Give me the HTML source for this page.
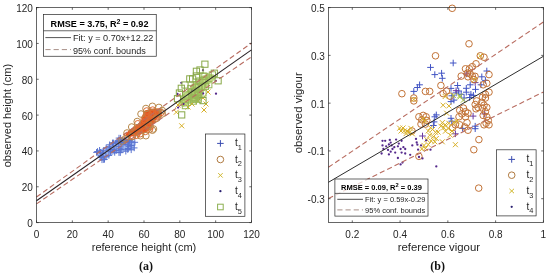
<!DOCTYPE html>
<html><head><meta charset="utf-8"><style>
html,body{margin:0;padding:0;background:#fff;}
svg{display:block;font-family:"Liberation Sans", sans-serif;will-change:transform;}
.tk{font-size:10px;fill:#262626;}
.lb{font-size:11px;fill:#262626;}
.lg{font-size:10px;fill:#262626;}
.cap{font-family:"Liberation Serif",serif;font-weight:bold;font-size:12px;fill:#111;}
</style></head><body>
<svg width="550" height="276" viewBox="0 0 550 276">
<rect width="550" height="276" fill="#fff"/>
<path d="M96.4,152.3 L103.5,147.4 L111.9,144.0 L114.2,140.5 L120.8,137.6 L131.0,138.8 L135.7,142.0 L134.5,149.8 L125.6,151.2 L114.9,153.5 L106.3,158.4 L102.2,161.0 L97.2,156.6Z" fill="#a0b8f0"/>
<path d="M123.8,142.6H130.4M127.1,139.3V145.9" stroke="#5a74d0" stroke-width="1.0" opacity="1.0"/>
<path d="M124.7,148.5H131.3M128.0,145.2V151.8" stroke="#5a74d0" stroke-width="1.0" opacity="1.0"/>
<path d="M102.9,147.9H109.5M106.2,144.6V151.2" stroke="#5a74d0" stroke-width="1.0" opacity="1.0"/>
<path d="M112.9,150.6H119.5M116.2,147.3V153.9" stroke="#5a74d0" stroke-width="1.0" opacity="1.0"/>
<path d="M117.3,138.2H123.9M120.6,134.9V141.5" stroke="#5a74d0" stroke-width="1.0" opacity="1.0"/>
<path d="M117.9,149.6H124.5M121.2,146.3V152.9" stroke="#5a74d0" stroke-width="1.0" opacity="1.0"/>
<path d="M112.6,143.1H119.2M115.9,139.8V146.4" stroke="#5a74d0" stroke-width="1.0" opacity="1.0"/>
<path d="M120.5,142.0H127.1M123.8,138.7V145.3" stroke="#5a74d0" stroke-width="1.0" opacity="1.0"/>
<path d="M126.0,140.9H132.6M129.3,137.6V144.2" stroke="#5a74d0" stroke-width="1.0" opacity="1.0"/>
<path d="M96.3,150.3H102.9M99.6,147.0V153.6" stroke="#5a74d0" stroke-width="1.0" opacity="1.0"/>
<path d="M107.2,151.6H113.8M110.5,148.3V154.9" stroke="#5a74d0" stroke-width="1.0" opacity="1.0"/>
<path d="M125.5,146.3H132.1M128.8,143.0V149.6" stroke="#5a74d0" stroke-width="1.0" opacity="1.0"/>
<path d="M117.0,152.6H123.6M120.3,149.3V155.9" stroke="#5a74d0" stroke-width="1.0" opacity="1.0"/>
<path d="M119.8,140.8H126.4M123.1,137.5V144.1" stroke="#5a74d0" stroke-width="1.0" opacity="1.0"/>
<path d="M110.3,142.9H116.9M113.6,139.6V146.2" stroke="#5a74d0" stroke-width="1.0" opacity="1.0"/>
<path d="M131.5,142.3H138.1M134.8,139.0V145.6" stroke="#5a74d0" stroke-width="1.0" opacity="1.0"/>
<path d="M119.6,144.4H126.2M122.9,141.1V147.7" stroke="#5a74d0" stroke-width="1.0" opacity="1.0"/>
<path d="M97.9,157.6H104.5M101.2,154.3V160.9" stroke="#5a74d0" stroke-width="1.0" opacity="1.0"/>
<path d="M115.5,140.7H122.1M118.8,137.4V144.0" stroke="#5a74d0" stroke-width="1.0" opacity="1.0"/>
<path d="M100.4,159.6H107.0M103.7,156.3V162.9" stroke="#5a74d0" stroke-width="1.0" opacity="1.0"/>
<path d="M114.8,141.5H121.4M118.1,138.2V144.8" stroke="#5a74d0" stroke-width="1.0" opacity="1.0"/>
<path d="M115.5,146.3H122.1M118.8,143.0V149.6" stroke="#5a74d0" stroke-width="1.0" opacity="1.0"/>
<path d="M109.2,142.9H115.8M112.5,139.6V146.2" stroke="#5a74d0" stroke-width="1.0" opacity="1.0"/>
<path d="M111.4,150.4H118.0M114.7,147.1V153.7" stroke="#5a74d0" stroke-width="1.0" opacity="1.0"/>
<path d="M105.6,155.4H112.2M108.9,152.1V158.7" stroke="#5a74d0" stroke-width="1.0" opacity="1.0"/>
<path d="M109.9,149.8H116.5M113.2,146.5V153.1" stroke="#5a74d0" stroke-width="1.0" opacity="1.0"/>
<path d="M127.7,145.5H134.3M131.0,142.2V148.8" stroke="#5a74d0" stroke-width="1.0" opacity="1.0"/>
<path d="M106.9,149.7H113.5M110.2,146.4V153.0" stroke="#5a74d0" stroke-width="1.0" opacity="1.0"/>
<path d="M98.7,159.8H105.3M102.0,156.5V163.1" stroke="#5a74d0" stroke-width="1.0" opacity="1.0"/>
<path d="M125.2,140.5H131.8M128.5,137.2V143.8" stroke="#5a74d0" stroke-width="1.0" opacity="1.0"/>
<path d="M93.2,152.4H99.8M96.5,149.1V155.7" stroke="#5a74d0" stroke-width="1.0" opacity="1.0"/>
<path d="M124.5,149.6H131.1M127.8,146.3V152.9" stroke="#5a74d0" stroke-width="1.0" opacity="1.0"/>
<path d="M121.8,142.6H128.4M125.1,139.3V145.9" stroke="#5a74d0" stroke-width="1.0" opacity="1.0"/>
<path d="M130.9,147.9H137.5M134.2,144.6V151.2" stroke="#5a74d0" stroke-width="1.0" opacity="1.0"/>
<path d="M122.5,151.2H129.1M125.8,147.9V154.5" stroke="#5a74d0" stroke-width="1.0" opacity="1.0"/>
<path d="M102.7,156.7H109.3M106.0,153.4V160.0" stroke="#5a74d0" stroke-width="1.0" opacity="1.0"/>
<path d="M106.0,146.8H112.6M109.3,143.5V150.1" stroke="#5a74d0" stroke-width="1.0" opacity="1.0"/>
<path d="M101.2,159.3H107.8M104.5,156.0V162.6" stroke="#5a74d0" stroke-width="1.0" opacity="1.0"/>
<path d="M126.4,139.9H133.0M129.7,136.6V143.2" stroke="#5a74d0" stroke-width="1.0" opacity="1.0"/>
<path d="M116.9,148.8H123.5M120.2,145.5V152.1" stroke="#5a74d0" stroke-width="1.0" opacity="1.0"/>
<path d="M111.4,152.4H118.0M114.7,149.1V155.7" stroke="#5a74d0" stroke-width="1.0" opacity="1.0"/>
<path d="M118.2,141.6H124.8M121.5,138.3V144.9" stroke="#5a74d0" stroke-width="1.0" opacity="1.0"/>
<path d="M122.0,139.9H128.6M125.3,136.6V143.2" stroke="#5a74d0" stroke-width="1.0" opacity="1.0"/>
<path d="M127.9,149.8H134.5M131.2,146.5V153.1" stroke="#5a74d0" stroke-width="1.0" opacity="1.0"/>
<path d="M100.2,150.9H106.8M103.5,147.6V154.2" stroke="#5a74d0" stroke-width="1.0" opacity="1.0"/>
<path d="M94.2,151.5H100.8M97.5,148.2V154.8" stroke="#5a74d0" stroke-width="1.0" opacity="1.0"/>
<path d="M99.3,153.6H105.9M102.6,150.3V156.9" stroke="#5a74d0" stroke-width="1.0" opacity="1.0"/>
<path d="M117.2,141.8H123.8M120.5,138.5V145.1" stroke="#5a74d0" stroke-width="1.0" opacity="1.0"/>
<path d="M115.7,138.1H122.3M119.0,134.8V141.4" stroke="#5a74d0" stroke-width="1.0" opacity="1.0"/>
<path d="M106.3,144.8H112.9M109.6,141.5V148.1" stroke="#5a74d0" stroke-width="1.0" opacity="1.0"/>
<path d="M97.2,152.3H103.8M100.5,149.0V155.6" stroke="#5a74d0" stroke-width="1.0" opacity="1.0"/>
<path d="M124.7,144.7H131.3M128.0,141.4V148.0" stroke="#5a74d0" stroke-width="1.0" opacity="1.0"/>
<path d="M97.8,155.7H104.4M101.1,152.4V159.0" stroke="#5a74d0" stroke-width="1.0" opacity="1.0"/>
<path d="M128.1,141.9H134.7M131.4,138.6V145.2" stroke="#5a74d0" stroke-width="1.0" opacity="1.0"/>
<path d="M115.7,152.6H122.3M119.0,149.3V155.9" stroke="#5a74d0" stroke-width="1.0" opacity="1.0"/>
<path d="M124.3,135.9 L128.7,130.6 L137.6,124.4 L141.5,119.4 L143.8,112.2 L149.7,108.8 L155.8,108.6 L161.0,110.5 L160.9,114.6 L155.2,120.7 L151.2,127.1 L146.7,132.0 L139.0,134.4 L130.7,136.7Z" fill="#e8521e"/>
<circle cx="146.7" cy="111.0" r="3.3" fill="none" stroke="#e06a30" stroke-width="1.0" opacity="1.0"/>
<circle cx="148.7" cy="126.5" r="3.3" fill="none" stroke="#e06a30" stroke-width="1.0" opacity="1.0"/>
<circle cx="136.1" cy="129.1" r="3.3" fill="none" stroke="#e06a30" stroke-width="1.0" opacity="1.0"/>
<circle cx="148.3" cy="114.4" r="3.3" fill="none" stroke="#e06a30" stroke-width="1.0" opacity="1.0"/>
<circle cx="141.0" cy="127.2" r="3.3" fill="none" stroke="#e06a30" stroke-width="1.0" opacity="1.0"/>
<circle cx="155.0" cy="119.1" r="3.3" fill="none" stroke="#e06a30" stroke-width="1.0" opacity="1.0"/>
<circle cx="137.8" cy="123.8" r="3.3" fill="none" stroke="#e06a30" stroke-width="1.0" opacity="1.0"/>
<circle cx="145.6" cy="116.8" r="3.3" fill="none" stroke="#e06a30" stroke-width="1.0" opacity="1.0"/>
<circle cx="157.9" cy="116.0" r="3.3" fill="none" stroke="#e06a30" stroke-width="1.0" opacity="1.0"/>
<circle cx="135.3" cy="132.3" r="3.3" fill="none" stroke="#e06a30" stroke-width="1.0" opacity="1.0"/>
<circle cx="147.1" cy="113.6" r="3.3" fill="none" stroke="#e06a30" stroke-width="1.0" opacity="1.0"/>
<circle cx="140.2" cy="133.7" r="3.3" fill="none" stroke="#e06a30" stroke-width="1.0" opacity="1.0"/>
<circle cx="137.9" cy="128.7" r="3.3" fill="none" stroke="#e06a30" stroke-width="1.0" opacity="1.0"/>
<circle cx="149.2" cy="118.9" r="3.3" fill="none" stroke="#e06a30" stroke-width="1.0" opacity="1.0"/>
<circle cx="152.3" cy="113.7" r="3.3" fill="none" stroke="#e06a30" stroke-width="1.0" opacity="1.0"/>
<circle cx="153.0" cy="119.6" r="3.3" fill="none" stroke="#e06a30" stroke-width="1.0" opacity="1.0"/>
<circle cx="147.9" cy="113.5" r="3.3" fill="none" stroke="#e06a30" stroke-width="1.0" opacity="1.0"/>
<circle cx="150.9" cy="121.0" r="3.3" fill="none" stroke="#e06a30" stroke-width="1.0" opacity="1.0"/>
<circle cx="144.2" cy="119.4" r="3.3" fill="none" stroke="#e06a30" stroke-width="1.0" opacity="1.0"/>
<circle cx="144.4" cy="129.0" r="3.3" fill="none" stroke="#e06a30" stroke-width="1.0" opacity="1.0"/>
<circle cx="138.2" cy="132.2" r="3.3" fill="none" stroke="#e06a30" stroke-width="1.0" opacity="1.0"/>
<circle cx="161.1" cy="112.5" r="3.3" fill="none" stroke="#e06a30" stroke-width="1.0" opacity="1.0"/>
<circle cx="158.4" cy="111.8" r="3.3" fill="none" stroke="#e06a30" stroke-width="1.0" opacity="1.0"/>
<circle cx="145.4" cy="121.1" r="3.3" fill="none" stroke="#e06a30" stroke-width="1.0" opacity="1.0"/>
<circle cx="152.0" cy="113.7" r="3.3" fill="none" stroke="#e06a30" stroke-width="1.0" opacity="1.0"/>
<circle cx="158.2" cy="114.5" r="3.3" fill="none" stroke="#e06a30" stroke-width="1.0" opacity="1.0"/>
<circle cx="152.7" cy="110.1" r="3.3" fill="none" stroke="#e06a30" stroke-width="1.0" opacity="1.0"/>
<circle cx="150.9" cy="121.3" r="3.3" fill="none" stroke="#e06a30" stroke-width="1.0" opacity="1.0"/>
<circle cx="147.4" cy="123.7" r="3.3" fill="none" stroke="#e06a30" stroke-width="1.0" opacity="1.0"/>
<circle cx="138.7" cy="131.0" r="3.3" fill="none" stroke="#e06a30" stroke-width="1.0" opacity="1.0"/>
<circle cx="156.6" cy="113.4" r="3.3" fill="none" stroke="#e06a30" stroke-width="1.0" opacity="1.0"/>
<circle cx="132.5" cy="136.2" r="3.3" fill="none" stroke="#e06a30" stroke-width="1.0" opacity="1.0"/>
<circle cx="149.4" cy="129.4" r="3.3" fill="none" stroke="#e06a30" stroke-width="1.0" opacity="1.0"/>
<circle cx="152.3" cy="113.0" r="3.3" fill="none" stroke="#e06a30" stroke-width="1.0" opacity="1.0"/>
<circle cx="136.2" cy="135.3" r="3.3" fill="none" stroke="#e06a30" stroke-width="1.0" opacity="1.0"/>
<circle cx="127.3" cy="136.1" r="3.3" fill="none" stroke="#e06a30" stroke-width="1.0" opacity="1.0"/>
<circle cx="145.4" cy="131.4" r="3.3" fill="none" stroke="#e06a30" stroke-width="1.0" opacity="1.0"/>
<circle cx="134.4" cy="131.4" r="3.3" fill="none" stroke="#e06a30" stroke-width="1.0" opacity="1.0"/>
<circle cx="150.2" cy="126.8" r="3.3" fill="none" stroke="#e06a30" stroke-width="1.0" opacity="1.0"/>
<circle cx="139.4" cy="128.2" r="3.3" fill="none" stroke="#e06a30" stroke-width="1.0" opacity="1.0"/>
<circle cx="145.9" cy="108.5" r="3.3" fill="none" stroke="#b8884a" stroke-width="1.0" opacity="1.0"/>
<circle cx="152.4" cy="106.3" r="3.3" fill="none" stroke="#b8884a" stroke-width="1.0" opacity="1.0"/>
<circle cx="158.9" cy="107.4" r="3.3" fill="none" stroke="#b8884a" stroke-width="1.0" opacity="1.0"/>
<circle cx="162.2" cy="110.5" r="3.3" fill="none" stroke="#b8884a" stroke-width="1.0" opacity="1.0"/>
<circle cx="137.2" cy="121.5" r="3.3" fill="none" stroke="#b8884a" stroke-width="1.0" opacity="1.0"/>
<circle cx="131.7" cy="127.0" r="3.3" fill="none" stroke="#b8884a" stroke-width="1.0" opacity="1.0"/>
<circle cx="140.4" cy="135.7" r="3.3" fill="none" stroke="#b8884a" stroke-width="1.0" opacity="1.0"/>
<circle cx="145.9" cy="135.7" r="3.3" fill="none" stroke="#b8884a" stroke-width="1.0" opacity="1.0"/>
<circle cx="152.4" cy="130.2" r="3.3" fill="none" stroke="#b8884a" stroke-width="1.0" opacity="1.0"/>
<circle cx="131.7" cy="136.7" r="3.3" fill="none" stroke="#b8884a" stroke-width="1.0" opacity="1.0"/>
<circle cx="125.2" cy="138.9" r="3.3" fill="none" stroke="#b8884a" stroke-width="1.0" opacity="1.0"/>
<circle cx="122.0" cy="141.0" r="3.3" fill="none" stroke="#b8884a" stroke-width="1.0" opacity="1.0"/>
<circle cx="162.2" cy="113.9" r="3.3" fill="none" stroke="#b8884a" stroke-width="1.0" opacity="1.0"/>
<circle cx="153.5" cy="129.0" r="3.3" fill="none" stroke="#b8884a" stroke-width="1.0" opacity="1.0"/>
<circle cx="156.7" cy="118.3" r="3.3" fill="none" stroke="#b8884a" stroke-width="1.0" opacity="1.0"/>
<circle cx="127.0" cy="133.0" r="3.3" fill="none" stroke="#b8884a" stroke-width="1.0" opacity="1.0"/>
<circle cx="141.0" cy="114.0" r="3.3" fill="none" stroke="#b8884a" stroke-width="1.0" opacity="1.0"/>
<circle cx="149.0" cy="125.0" r="3.3" fill="none" stroke="#b8884a" stroke-width="1.0" opacity="1.0"/>
<path d="M187.5,97.5L192.5,102.5M187.5,102.5L192.5,97.5" stroke="#d8b028" stroke-width="1.0" opacity="1.0"/>
<path d="M193.5,94.5L198.5,99.5M193.5,99.5L198.5,94.5" stroke="#d8b028" stroke-width="1.0" opacity="1.0"/>
<path d="M197.5,92.5L202.5,97.5M197.5,97.5L202.5,92.5" stroke="#d8b028" stroke-width="1.0" opacity="1.0"/>
<path d="M183.5,99.5L188.5,104.5M183.5,104.5L188.5,99.5" stroke="#d8b028" stroke-width="1.0" opacity="1.0"/>
<path d="M189.5,101.5L194.5,106.5M189.5,106.5L194.5,101.5" stroke="#d8b028" stroke-width="1.0" opacity="1.0"/>
<path d="M195.5,98.5L200.5,103.5M195.5,103.5L200.5,98.5" stroke="#d8b028" stroke-width="1.0" opacity="1.0"/>
<path d="M200.5,95.5L205.5,100.5M200.5,100.5L205.5,95.5" stroke="#d8b028" stroke-width="1.0" opacity="1.0"/>
<path d="M205.5,89.5L210.5,94.5M205.5,94.5L210.5,89.5" stroke="#d8b028" stroke-width="1.0" opacity="1.0"/>
<path d="M198.6,93.3L203.6,98.3M198.6,98.3L203.6,93.3" stroke="#d8b028" stroke-width="1.0" opacity="1.0"/>
<path d="M180.5,97.5L185.5,102.5M180.5,102.5L185.5,97.5" stroke="#d8b028" stroke-width="1.0" opacity="1.0"/>
<path d="M177.9,104.0 L181.8,95.6 L189.4,88.4 L194.7,82.2 L201.0,76.5 L207.4,73.6 L213.9,74.5 L214.9,79.2 L210.1,83.8 L205.3,88.4 L202.7,94.5 L198.3,100.1 L191.0,103.0 L183.5,106.8Z" fill="#b0d06a" opacity="0.85"/>
<path d="M201.5,107.5L206.5,112.5M201.5,112.5L206.5,107.5" stroke="#d8b028" stroke-width="1.0" opacity="1.0"/>
<path d="M175.5,102.5L180.5,107.5M175.5,107.5L180.5,102.5" stroke="#d8b028" stroke-width="1.0" opacity="1.0"/>
<path d="M179.2,123.3L184.2,128.3M179.2,128.3L184.2,123.3" stroke="#d8b028" stroke-width="1.0" opacity="1.0"/>
<path d="M173.8,109.7L178.8,114.7M173.8,114.7L178.8,109.7" stroke="#d8b028" stroke-width="1.0" opacity="1.0"/>
<path d="M203.5,101.5L208.5,106.5M203.5,106.5L208.5,101.5" stroke="#d8b028" stroke-width="1.0" opacity="1.0"/>
<path d="M185.5,104.5L190.5,109.5M185.5,109.5L190.5,104.5" stroke="#d8b028" stroke-width="1.0" opacity="1.0"/>
<circle cx="181.3" cy="82.8" r="1.15" fill="#552a8c" opacity="1.0"/>
<circle cx="216.0" cy="93.7" r="1.15" fill="#552a8c" opacity="1.0"/>
<circle cx="203.0" cy="70.2" r="1.15" fill="#552a8c" opacity="1.0"/>
<circle cx="177.5" cy="94.0" r="1.15" fill="#552a8c" opacity="1.0"/>
<circle cx="215.8" cy="80.8" r="1.15" fill="#552a8c" opacity="1.0"/>
<circle cx="203.1" cy="93.5" r="1.15" fill="#552a8c" opacity="1.0"/>
<circle cx="178.1" cy="107.6" r="1.15" fill="#552a8c" opacity="1.0"/>
<circle cx="183.5" cy="104.0" r="1.15" fill="#552a8c" opacity="1.0"/>
<circle cx="192.0" cy="90.0" r="1.15" fill="#552a8c" opacity="1.0"/>
<circle cx="198.0" cy="84.0" r="1.15" fill="#552a8c" opacity="1.0"/>
<rect x="205.7" y="81.6" width="6.2" height="6.2" fill="none" stroke="#98b858" stroke-width="1.0" opacity="1.0"/>
<rect x="199.6" y="77.5" width="6.2" height="6.2" fill="none" stroke="#98b858" stroke-width="1.0" opacity="1.0"/>
<rect x="195.2" y="96.1" width="6.2" height="6.2" fill="none" stroke="#98b858" stroke-width="1.0" opacity="1.0"/>
<rect x="192.1" y="84.1" width="6.2" height="6.2" fill="none" stroke="#98b858" stroke-width="1.0" opacity="1.0"/>
<rect x="201.8" y="73.3" width="6.2" height="6.2" fill="none" stroke="#98b858" stroke-width="1.0" opacity="1.0"/>
<rect x="195.6" y="89.1" width="6.2" height="6.2" fill="none" stroke="#98b858" stroke-width="1.0" opacity="1.0"/>
<rect x="209.3" y="71.8" width="6.2" height="6.2" fill="none" stroke="#98b858" stroke-width="1.0" opacity="1.0"/>
<rect x="191.5" y="91.5" width="6.2" height="6.2" fill="none" stroke="#98b858" stroke-width="1.0" opacity="1.0"/>
<rect x="196.7" y="77.9" width="6.2" height="6.2" fill="none" stroke="#98b858" stroke-width="1.0" opacity="1.0"/>
<rect x="182.0" y="99.7" width="6.2" height="6.2" fill="none" stroke="#98b858" stroke-width="1.0" opacity="1.0"/>
<rect x="192.0" y="91.1" width="6.2" height="6.2" fill="none" stroke="#98b858" stroke-width="1.0" opacity="1.0"/>
<rect x="198.5" y="84.0" width="6.2" height="6.2" fill="none" stroke="#98b858" stroke-width="1.0" opacity="1.0"/>
<rect x="195.4" y="83.7" width="6.2" height="6.2" fill="none" stroke="#98b858" stroke-width="1.0" opacity="1.0"/>
<rect x="202.3" y="83.2" width="6.2" height="6.2" fill="none" stroke="#98b858" stroke-width="1.0" opacity="1.0"/>
<rect x="192.1" y="95.6" width="6.2" height="6.2" fill="none" stroke="#98b858" stroke-width="1.0" opacity="1.0"/>
<rect x="193.4" y="81.7" width="6.2" height="6.2" fill="none" stroke="#98b858" stroke-width="1.0" opacity="1.0"/>
<rect x="191.3" y="94.2" width="6.2" height="6.2" fill="none" stroke="#98b858" stroke-width="1.0" opacity="1.0"/>
<rect x="195.4" y="92.6" width="6.2" height="6.2" fill="none" stroke="#98b858" stroke-width="1.0" opacity="1.0"/>
<rect x="199.9" y="89.9" width="6.2" height="6.2" fill="none" stroke="#98b858" stroke-width="1.0" opacity="1.0"/>
<rect x="187.8" y="85.4" width="6.2" height="6.2" fill="none" stroke="#98b858" stroke-width="1.0" opacity="1.0"/>
<rect x="188.5" y="89.8" width="6.2" height="6.2" fill="none" stroke="#98b858" stroke-width="1.0" opacity="1.0"/>
<rect x="200.1" y="73.0" width="6.2" height="6.2" fill="none" stroke="#98b858" stroke-width="1.0" opacity="1.0"/>
<rect x="190.3" y="98.0" width="6.2" height="6.2" fill="none" stroke="#98b858" stroke-width="1.0" opacity="1.0"/>
<rect x="188.6" y="88.6" width="6.2" height="6.2" fill="none" stroke="#98b858" stroke-width="1.0" opacity="1.0"/>
<rect x="183.9" y="91.9" width="6.2" height="6.2" fill="none" stroke="#98b858" stroke-width="1.0" opacity="1.0"/>
<rect x="188.7" y="91.7" width="6.2" height="6.2" fill="none" stroke="#98b858" stroke-width="1.0" opacity="1.0"/>
<rect x="194.2" y="91.5" width="6.2" height="6.2" fill="none" stroke="#98b858" stroke-width="1.0" opacity="1.0"/>
<rect x="182.3" y="102.5" width="6.2" height="6.2" fill="none" stroke="#98b858" stroke-width="1.0" opacity="1.0"/>
<rect x="190.4" y="96.1" width="6.2" height="6.2" fill="none" stroke="#98b858" stroke-width="1.0" opacity="1.0"/>
<rect x="201.0" y="77.0" width="6.2" height="6.2" fill="none" stroke="#98b858" stroke-width="1.0" opacity="1.0"/>
<rect x="201.8" y="61.1" width="6.2" height="6.2" fill="none" stroke="#88a848" stroke-width="1.0" opacity="1.0"/>
<rect x="193.3" y="68.2" width="6.2" height="6.2" fill="none" stroke="#88a848" stroke-width="1.0" opacity="1.0"/>
<rect x="186.7" y="75.8" width="6.2" height="6.2" fill="none" stroke="#88a848" stroke-width="1.0" opacity="1.0"/>
<rect x="178.2" y="85.2" width="6.2" height="6.2" fill="none" stroke="#88a848" stroke-width="1.0" opacity="1.0"/>
<rect x="176.3" y="89.9" width="6.2" height="6.2" fill="none" stroke="#88a848" stroke-width="1.0" opacity="1.0"/>
<rect x="174.4" y="95.6" width="6.2" height="6.2" fill="none" stroke="#88a848" stroke-width="1.0" opacity="1.0"/>
<rect x="199.9" y="97.5" width="6.2" height="6.2" fill="none" stroke="#88a848" stroke-width="1.0" opacity="1.0"/>
<rect x="215.0" y="77.7" width="6.2" height="6.2" fill="none" stroke="#88a848" stroke-width="1.0" opacity="1.0"/>
<rect x="211.2" y="70.1" width="6.2" height="6.2" fill="none" stroke="#88a848" stroke-width="1.0" opacity="1.0"/>
<rect x="193.3" y="72.9" width="6.2" height="6.2" fill="none" stroke="#88a848" stroke-width="1.0" opacity="1.0"/>
<rect x="189.5" y="75.8" width="6.2" height="6.2" fill="none" stroke="#88a848" stroke-width="1.0" opacity="1.0"/>
<rect x="178.6" y="111.8" width="6.2" height="6.2" fill="none" stroke="#88a848" stroke-width="1.0" opacity="1.0"/>
<rect x="181.9" y="81.9" width="6.2" height="6.2" fill="none" stroke="#88a848" stroke-width="1.0" opacity="1.0"/>
<rect x="196.9" y="66.9" width="6.2" height="6.2" fill="none" stroke="#88a848" stroke-width="1.0" opacity="1.0"/>
<path d="M471.9,126.2H478.5M475.2,122.9V129.5" stroke="#4254c4" stroke-width="1.0" opacity="1.0"/>
<path d="M467.6,94.3H474.2M470.9,91.0V97.6" stroke="#4254c4" stroke-width="1.0" opacity="1.0"/>
<path d="M447.7,101.6H454.3M451.0,98.3V104.9" stroke="#4254c4" stroke-width="1.0" opacity="1.0"/>
<path d="M450.6,100.1H457.2M453.9,96.8V103.4" stroke="#4254c4" stroke-width="1.0" opacity="1.0"/>
<path d="M448.5,95.8H455.1M451.8,92.5V99.1" stroke="#4254c4" stroke-width="1.0" opacity="1.0"/>
<path d="M452.8,92.9H459.4M456.1,89.6V96.2" stroke="#4254c4" stroke-width="1.0" opacity="1.0"/>
<path d="M457.9,94.3H464.5M461.2,91.0V97.6" stroke="#4254c4" stroke-width="1.0" opacity="1.0"/>
<path d="M460.8,98.0H467.4M464.1,94.7V101.3" stroke="#4254c4" stroke-width="1.0" opacity="1.0"/>
<path d="M463.0,92.2H469.6M466.3,88.9V95.5" stroke="#4254c4" stroke-width="1.0" opacity="1.0"/>
<path d="M447.7,118.3H454.3M451.0,115.0V121.6" stroke="#4254c4" stroke-width="1.0" opacity="1.0"/>
<path d="M448.5,121.2H455.1M451.8,117.9V124.5" stroke="#4254c4" stroke-width="1.0" opacity="1.0"/>
<path d="M459.3,128.4H465.9M462.6,125.1V131.7" stroke="#4254c4" stroke-width="1.0" opacity="1.0"/>
<path d="M410.5,91.4H417.1M413.8,88.1V94.7" stroke="#4254c4" stroke-width="1.0" opacity="1.0"/>
<path d="M431.5,116.8H438.1M434.8,113.5V120.1" stroke="#4254c4" stroke-width="1.0" opacity="1.0"/>
<path d="M430.8,121.9H437.4M434.1,118.6V125.2" stroke="#4254c4" stroke-width="1.0" opacity="1.0"/>
<path d="M430.1,125.5H436.7M433.4,122.2V128.8" stroke="#4254c4" stroke-width="1.0" opacity="1.0"/>
<path d="M449.9,63.0H456.5M453.2,59.7V66.3" stroke="#4254c4" stroke-width="1.0" opacity="1.0"/>
<path d="M438.3,73.2H444.9M441.6,69.9V76.5" stroke="#4254c4" stroke-width="1.0" opacity="1.0"/>
<path d="M439.0,78.3H445.6M442.3,75.0V81.6" stroke="#4254c4" stroke-width="1.0" opacity="1.0"/>
<path d="M454.3,85.5H460.9M457.6,82.2V88.8" stroke="#4254c4" stroke-width="1.0" opacity="1.0"/>
<path d="M447.7,88.4H454.3M451.0,85.1V91.7" stroke="#4254c4" stroke-width="1.0" opacity="1.0"/>
<path d="M483.5,71.0H490.1M486.8,67.7V74.3" stroke="#4254c4" stroke-width="1.0" opacity="1.0"/>
<path d="M478.5,76.8H485.1M481.8,73.5V80.1" stroke="#4254c4" stroke-width="1.0" opacity="1.0"/>
<path d="M482.1,80.4H488.7M485.4,77.1V83.7" stroke="#4254c4" stroke-width="1.0" opacity="1.0"/>
<path d="M477.7,84.8H484.3M481.0,81.5V88.1" stroke="#4254c4" stroke-width="1.0" opacity="1.0"/>
<path d="M466.9,84.8H473.5M470.2,81.5V88.1" stroke="#4254c4" stroke-width="1.0" opacity="1.0"/>
<path d="M427.2,67.4H433.8M430.5,64.1V70.7" stroke="#4254c4" stroke-width="1.0" opacity="1.0"/>
<path d="M431.5,74.6H438.1M434.8,71.3V77.9" stroke="#4254c4" stroke-width="1.0" opacity="1.0"/>
<path d="M416.3,84.8H422.9M419.6,81.5V88.1" stroke="#4254c4" stroke-width="1.0" opacity="1.0"/>
<path d="M414.1,87.5H420.7M417.4,84.2V90.8" stroke="#4254c4" stroke-width="1.0" opacity="1.0"/>
<path d="M471.9,128.7H478.5M475.2,125.4V132.0" stroke="#4254c4" stroke-width="1.0" opacity="1.0"/>
<path d="M433.0,114.9H439.6M436.3,111.6V118.2" stroke="#4254c4" stroke-width="1.0" opacity="1.0"/>
<path d="M455.4,91.0H462.0M458.7,87.7V94.3" stroke="#4254c4" stroke-width="1.0" opacity="1.0"/>
<path d="M463.0,88.3H469.6M466.3,85.0V91.6" stroke="#4254c4" stroke-width="1.0" opacity="1.0"/>
<path d="M470.1,95.4H476.7M473.4,92.1V98.7" stroke="#4254c4" stroke-width="1.0" opacity="1.0"/>
<path d="M466.3,97.5H472.9M469.6,94.2V100.8" stroke="#4254c4" stroke-width="1.0" opacity="1.0"/>
<path d="M472.2,89.4H478.8M475.5,86.1V92.7" stroke="#4254c4" stroke-width="1.0" opacity="1.0"/>
<path d="M469.8,116.1H476.4M473.1,112.8V119.4" stroke="#6a3aa0" stroke-width="1.0" opacity="1.0"/>
<path d="M481.4,113.9H488.0M484.7,110.6V117.2" stroke="#6a3aa0" stroke-width="1.0" opacity="1.0"/>
<path d="M452.8,90.7H459.4M456.1,87.4V94.0" stroke="#6a3aa0" stroke-width="1.0" opacity="1.0"/>
<path d="M463.0,73.9H469.6M466.3,70.6V77.2" stroke="#6a3aa0" stroke-width="1.0" opacity="1.0"/>
<path d="M471.9,82.6H478.5M475.2,79.3V85.9" stroke="#6a3aa0" stroke-width="1.0" opacity="1.0"/>
<path d="M452.1,133.8H458.7M455.4,130.5V137.1" stroke="#6a3aa0" stroke-width="1.0" opacity="1.0"/>
<path d="M419.2,136.0H425.8M422.5,132.7V139.3" stroke="#6a3aa0" stroke-width="1.0" opacity="1.0"/>
<circle cx="452.2" cy="8.3" r="3.3" fill="none" stroke="#c27236" stroke-width="1.0" opacity="1.0"/>
<circle cx="469.0" cy="43.8" r="3.3" fill="none" stroke="#c27236" stroke-width="1.0" opacity="1.0"/>
<circle cx="478.7" cy="188.1" r="3.3" fill="none" stroke="#c27236" stroke-width="1.0" opacity="1.0"/>
<circle cx="489.0" cy="92.2" r="3.3" fill="none" stroke="#c27236" stroke-width="1.0" opacity="1.0"/>
<circle cx="485.4" cy="94.3" r="3.3" fill="none" stroke="#c27236" stroke-width="1.0" opacity="1.0"/>
<circle cx="482.5" cy="97.2" r="3.3" fill="none" stroke="#c27236" stroke-width="1.0" opacity="1.0"/>
<circle cx="485.4" cy="98.0" r="3.3" fill="none" stroke="#c27236" stroke-width="1.0" opacity="1.0"/>
<circle cx="476.7" cy="100.9" r="3.3" fill="none" stroke="#c27236" stroke-width="1.0" opacity="1.0"/>
<circle cx="475.2" cy="104.5" r="3.3" fill="none" stroke="#c27236" stroke-width="1.0" opacity="1.0"/>
<circle cx="481.8" cy="102.3" r="3.3" fill="none" stroke="#c27236" stroke-width="1.0" opacity="1.0"/>
<circle cx="484.0" cy="105.2" r="3.3" fill="none" stroke="#c27236" stroke-width="1.0" opacity="1.0"/>
<circle cx="478.1" cy="107.4" r="3.3" fill="none" stroke="#c27236" stroke-width="1.0" opacity="1.0"/>
<circle cx="476.0" cy="108.8" r="3.3" fill="none" stroke="#c27236" stroke-width="1.0" opacity="1.0"/>
<circle cx="482.5" cy="108.1" r="3.3" fill="none" stroke="#c27236" stroke-width="1.0" opacity="1.0"/>
<circle cx="486.8" cy="107.4" r="3.3" fill="none" stroke="#c27236" stroke-width="1.0" opacity="1.0"/>
<circle cx="485.4" cy="111.7" r="3.3" fill="none" stroke="#c27236" stroke-width="1.0" opacity="1.0"/>
<circle cx="483.2" cy="115.4" r="3.3" fill="none" stroke="#c27236" stroke-width="1.0" opacity="1.0"/>
<circle cx="486.8" cy="116.8" r="3.3" fill="none" stroke="#c27236" stroke-width="1.0" opacity="1.0"/>
<circle cx="488.3" cy="120.4" r="3.3" fill="none" stroke="#c27236" stroke-width="1.0" opacity="1.0"/>
<circle cx="486.1" cy="123.3" r="3.3" fill="none" stroke="#c27236" stroke-width="1.0" opacity="1.0"/>
<circle cx="484.0" cy="124.8" r="3.3" fill="none" stroke="#c27236" stroke-width="1.0" opacity="1.0"/>
<circle cx="489.0" cy="124.8" r="3.3" fill="none" stroke="#c27236" stroke-width="1.0" opacity="1.0"/>
<circle cx="468.0" cy="113.2" r="3.3" fill="none" stroke="#c27236" stroke-width="1.0" opacity="1.0"/>
<circle cx="443.1" cy="93.6" r="3.3" fill="none" stroke="#c27236" stroke-width="1.0" opacity="1.0"/>
<circle cx="459.7" cy="110.3" r="3.3" fill="none" stroke="#c27236" stroke-width="1.0" opacity="1.0"/>
<circle cx="463.4" cy="108.1" r="3.3" fill="none" stroke="#c27236" stroke-width="1.0" opacity="1.0"/>
<circle cx="465.5" cy="111.7" r="3.3" fill="none" stroke="#c27236" stroke-width="1.0" opacity="1.0"/>
<circle cx="461.9" cy="113.9" r="3.3" fill="none" stroke="#c27236" stroke-width="1.0" opacity="1.0"/>
<circle cx="465.5" cy="116.8" r="3.3" fill="none" stroke="#c27236" stroke-width="1.0" opacity="1.0"/>
<circle cx="459.0" cy="116.8" r="3.3" fill="none" stroke="#c27236" stroke-width="1.0" opacity="1.0"/>
<circle cx="467.0" cy="122.6" r="3.3" fill="none" stroke="#c27236" stroke-width="1.0" opacity="1.0"/>
<circle cx="459.7" cy="124.8" r="3.3" fill="none" stroke="#c27236" stroke-width="1.0" opacity="1.0"/>
<circle cx="455.4" cy="124.8" r="3.3" fill="none" stroke="#c27236" stroke-width="1.0" opacity="1.0"/>
<circle cx="464.8" cy="127.0" r="3.3" fill="none" stroke="#c27236" stroke-width="1.0" opacity="1.0"/>
<circle cx="452.5" cy="127.7" r="3.3" fill="none" stroke="#c27236" stroke-width="1.0" opacity="1.0"/>
<circle cx="413.8" cy="98.0" r="3.3" fill="none" stroke="#c27236" stroke-width="1.0" opacity="1.0"/>
<circle cx="413.8" cy="100.9" r="3.3" fill="none" stroke="#c27236" stroke-width="1.0" opacity="1.0"/>
<circle cx="425.4" cy="91.4" r="3.3" fill="none" stroke="#c27236" stroke-width="1.0" opacity="1.0"/>
<circle cx="429.7" cy="91.4" r="3.3" fill="none" stroke="#c27236" stroke-width="1.0" opacity="1.0"/>
<circle cx="418.9" cy="116.8" r="3.3" fill="none" stroke="#c27236" stroke-width="1.0" opacity="1.0"/>
<circle cx="423.2" cy="115.4" r="3.3" fill="none" stroke="#c27236" stroke-width="1.0" opacity="1.0"/>
<circle cx="426.1" cy="116.8" r="3.3" fill="none" stroke="#c27236" stroke-width="1.0" opacity="1.0"/>
<circle cx="421.8" cy="119.7" r="3.3" fill="none" stroke="#c27236" stroke-width="1.0" opacity="1.0"/>
<circle cx="426.8" cy="120.4" r="3.3" fill="none" stroke="#c27236" stroke-width="1.0" opacity="1.0"/>
<circle cx="421.0" cy="124.1" r="3.3" fill="none" stroke="#c27236" stroke-width="1.0" opacity="1.0"/>
<circle cx="425.4" cy="124.1" r="3.3" fill="none" stroke="#c27236" stroke-width="1.0" opacity="1.0"/>
<circle cx="465.5" cy="68.8" r="3.3" fill="none" stroke="#c27236" stroke-width="1.0" opacity="1.0"/>
<circle cx="461.2" cy="76.1" r="3.3" fill="none" stroke="#c27236" stroke-width="1.0" opacity="1.0"/>
<circle cx="440.9" cy="85.5" r="3.3" fill="none" stroke="#c27236" stroke-width="1.0" opacity="1.0"/>
<circle cx="480.3" cy="55.8" r="3.3" fill="none" stroke="#c27236" stroke-width="1.0" opacity="1.0"/>
<circle cx="484.0" cy="57.2" r="3.3" fill="none" stroke="#c27236" stroke-width="1.0" opacity="1.0"/>
<circle cx="476.0" cy="63.8" r="3.3" fill="none" stroke="#c27236" stroke-width="1.0" opacity="1.0"/>
<circle cx="472.3" cy="66.7" r="3.3" fill="none" stroke="#c27236" stroke-width="1.0" opacity="1.0"/>
<circle cx="469.4" cy="68.8" r="3.3" fill="none" stroke="#c27236" stroke-width="1.0" opacity="1.0"/>
<circle cx="470.2" cy="73.9" r="3.3" fill="none" stroke="#c27236" stroke-width="1.0" opacity="1.0"/>
<circle cx="468.0" cy="76.8" r="3.3" fill="none" stroke="#c27236" stroke-width="1.0" opacity="1.0"/>
<circle cx="472.3" cy="76.1" r="3.3" fill="none" stroke="#c27236" stroke-width="1.0" opacity="1.0"/>
<circle cx="489.0" cy="74.6" r="3.3" fill="none" stroke="#c27236" stroke-width="1.0" opacity="1.0"/>
<circle cx="483.2" cy="84.8" r="3.3" fill="none" stroke="#c27236" stroke-width="1.0" opacity="1.0"/>
<circle cx="486.8" cy="83.3" r="3.3" fill="none" stroke="#c27236" stroke-width="1.0" opacity="1.0"/>
<circle cx="435.5" cy="55.8" r="3.3" fill="none" stroke="#c27236" stroke-width="1.0" opacity="1.0"/>
<circle cx="418.9" cy="156.3" r="3.3" fill="none" stroke="#c27236" stroke-width="1.0" opacity="1.0"/>
<circle cx="412.0" cy="131.0" r="3.3" fill="none" stroke="#c27236" stroke-width="1.0" opacity="1.0"/>
<circle cx="478.9" cy="139.6" r="3.3" fill="none" stroke="#c27236" stroke-width="1.0" opacity="1.0"/>
<circle cx="473.8" cy="149.7" r="3.3" fill="none" stroke="#c27236" stroke-width="1.0" opacity="1.0"/>
<circle cx="468.0" cy="130.2" r="3.3" fill="none" stroke="#c27236" stroke-width="1.0" opacity="1.0"/>
<circle cx="401.9" cy="93.7" r="3.3" fill="none" stroke="#c27236" stroke-width="1.0" opacity="1.0"/>
<circle cx="446.4" cy="91.1" r="3.3" fill="none" stroke="#c27236" stroke-width="1.0" opacity="1.0"/>
<circle cx="450.1" cy="96.2" r="3.3" fill="none" stroke="#c27236" stroke-width="1.0" opacity="1.0"/>
<circle cx="475.0" cy="76.3" r="3.3" fill="none" stroke="#c27236" stroke-width="1.0" opacity="1.0"/>
<circle cx="467.4" cy="73.1" r="3.3" fill="none" stroke="#c27236" stroke-width="1.0" opacity="1.0"/>
<circle cx="473.9" cy="79.6" r="3.3" fill="none" stroke="#c27236" stroke-width="1.0" opacity="1.0"/>
<path d="M442.7,94.0L447.7,99.0M442.7,99.0L447.7,94.0" stroke="#d8b028" stroke-width="1.0" opacity="1.0"/>
<path d="M440.6,102.7L445.6,107.7M440.6,107.7L445.6,102.7" stroke="#d8b028" stroke-width="1.0" opacity="1.0"/>
<path d="M446.4,103.4L451.4,108.4M446.4,108.4L451.4,103.4" stroke="#d8b028" stroke-width="1.0" opacity="1.0"/>
<path d="M444.2,110.7L449.2,115.7M444.2,115.7L449.2,110.7" stroke="#d8b028" stroke-width="1.0" opacity="1.0"/>
<path d="M439.8,120.1L444.8,125.1M439.8,125.1L444.8,120.1" stroke="#d8b028" stroke-width="1.0" opacity="1.0"/>
<path d="M442.7,122.3L447.7,127.3M442.7,127.3L447.7,122.3" stroke="#d8b028" stroke-width="1.0" opacity="1.0"/>
<path d="M446.4,120.8L451.4,125.8M446.4,125.8L451.4,120.8" stroke="#d8b028" stroke-width="1.0" opacity="1.0"/>
<path d="M441.3,125.2L446.3,130.2M441.3,130.2L446.3,125.2" stroke="#d8b028" stroke-width="1.0" opacity="1.0"/>
<path d="M445.6,125.9L450.6,130.9M445.6,130.9L450.6,125.9" stroke="#d8b028" stroke-width="1.0" opacity="1.0"/>
<path d="M438.4,123.7L443.4,128.7M438.4,128.7L443.4,123.7" stroke="#d8b028" stroke-width="1.0" opacity="1.0"/>
<path d="M454.3,118.7L459.3,123.7M454.3,123.7L459.3,118.7" stroke="#d8b028" stroke-width="1.0" opacity="1.0"/>
<path d="M451.5,120.1L456.5,125.1M451.5,125.1L456.5,120.1" stroke="#d8b028" stroke-width="1.0" opacity="1.0"/>
<path d="M411.3,96.9L416.3,101.9M411.3,101.9L416.3,96.9" stroke="#d8b028" stroke-width="1.0" opacity="1.0"/>
<path d="M420.7,116.5L425.7,121.5M420.7,121.5L425.7,116.5" stroke="#d8b028" stroke-width="1.0" opacity="1.0"/>
<path d="M422.2,118.7L427.2,123.7M422.2,123.7L427.2,118.7" stroke="#d8b028" stroke-width="1.0" opacity="1.0"/>
<path d="M408.4,125.9L413.4,130.9M408.4,130.9L413.4,125.9" stroke="#d8b028" stroke-width="1.0" opacity="1.0"/>
<path d="M428.0,125.2L433.0,130.2M428.0,130.2L433.0,125.2" stroke="#d8b028" stroke-width="1.0" opacity="1.0"/>
<path d="M472.0,77.2L477.0,82.2M472.0,82.2L477.0,77.2" stroke="#d8b028" stroke-width="1.0" opacity="1.0"/>
<path d="M477.8,53.3L482.8,58.3M477.8,58.3L482.8,53.3" stroke="#d8b028" stroke-width="1.0" opacity="1.0"/>
<path d="M439.8,139.3L444.8,144.3M439.8,144.3L444.8,139.3" stroke="#d8b028" stroke-width="1.0" opacity="1.0"/>
<path d="M447.8,132.7L452.8,137.7M447.8,137.7L452.8,132.7" stroke="#d8b028" stroke-width="1.0" opacity="1.0"/>
<path d="M452.9,142.2L457.9,147.2M452.9,147.2L457.9,142.2" stroke="#d8b028" stroke-width="1.0" opacity="1.0"/>
<path d="M425.8,128.4L430.8,133.4M425.8,133.4L430.8,128.4" stroke="#d8b028" stroke-width="1.0" opacity="1.0"/>
<path d="M430.1,126.9L435.1,131.9M430.1,131.9L435.1,126.9" stroke="#d8b028" stroke-width="1.0" opacity="1.0"/>
<path d="M433.0,129.8L438.0,134.8M433.0,134.8L438.0,129.8" stroke="#d8b028" stroke-width="1.0" opacity="1.0"/>
<path d="M427.2,132.7L432.2,137.7M427.2,137.7L432.2,132.7" stroke="#d8b028" stroke-width="1.0" opacity="1.0"/>
<path d="M430.9,134.2L435.9,139.2M430.9,139.2L435.9,134.2" stroke="#d8b028" stroke-width="1.0" opacity="1.0"/>
<path d="M424.3,137.1L429.3,142.1M424.3,142.1L429.3,137.1" stroke="#d8b028" stroke-width="1.0" opacity="1.0"/>
<path d="M428.7,138.5L433.7,143.5M428.7,143.5L433.7,138.5" stroke="#d8b028" stroke-width="1.0" opacity="1.0"/>
<path d="M432.3,139.3L437.3,144.3M432.3,144.3L437.3,139.3" stroke="#d8b028" stroke-width="1.0" opacity="1.0"/>
<path d="M421.5,142.9L426.5,147.9M421.5,147.9L426.5,142.9" stroke="#d8b028" stroke-width="1.0" opacity="1.0"/>
<path d="M425.8,142.2L430.8,147.2M425.8,147.2L430.8,142.2" stroke="#d8b028" stroke-width="1.0" opacity="1.0"/>
<path d="M419.3,146.5L424.3,151.5M419.3,151.5L424.3,146.5" stroke="#d8b028" stroke-width="1.0" opacity="1.0"/>
<path d="M422.9,145.8L427.9,150.8M422.9,150.8L427.9,145.8" stroke="#d8b028" stroke-width="1.0" opacity="1.0"/>
<path d="M406.9,129.8L411.9,134.8M406.9,134.8L411.9,129.8" stroke="#d8b028" stroke-width="1.0" opacity="1.0"/>
<path d="M409.8,131.3L414.8,136.3M409.8,136.3L414.8,131.3" stroke="#d8b028" stroke-width="1.0" opacity="1.0"/>
<path d="M397.2,125.7L402.2,130.7M397.2,130.7L402.2,125.7" stroke="#d8b028" stroke-width="1.0" opacity="1.0"/>
<path d="M401.8,128.4L406.8,133.4M401.8,133.4L406.8,128.4" stroke="#d8b028" stroke-width="1.0" opacity="1.0"/>
<path d="M403.6,131.1L408.6,136.1M403.6,136.1L408.6,131.1" stroke="#d8b028" stroke-width="1.0" opacity="1.0"/>
<path d="M400.5,125.5L405.5,130.5M400.5,130.5L405.5,125.5" stroke="#d8b028" stroke-width="1.0" opacity="1.0"/>
<path d="M404.5,128.5L409.5,133.5M404.5,133.5L409.5,128.5" stroke="#d8b028" stroke-width="1.0" opacity="1.0"/>
<path d="M398.5,128.5L403.5,133.5M398.5,133.5L403.5,128.5" stroke="#d8b028" stroke-width="1.0" opacity="1.0"/>
<path d="M449.5,128.5L454.5,133.5M449.5,133.5L454.5,128.5" stroke="#d8b028" stroke-width="1.0" opacity="1.0"/>
<path d="M442.9,128.7L447.9,133.7M442.9,133.7L447.9,128.7" stroke="#d8b028" stroke-width="1.0" opacity="1.0"/>
<path d="M435.6,129.6L440.6,134.6M435.6,134.6L440.6,129.6" stroke="#d8b028" stroke-width="1.0" opacity="1.0"/>
<path d="M433.8,136.0L438.8,141.0M433.8,141.0L438.8,136.0" stroke="#d8b028" stroke-width="1.0" opacity="1.0"/>
<path d="M457.2,93.3L462.2,98.3M457.2,98.3L462.2,93.3" stroke="#a8c040" stroke-width="1.0" opacity="1.0"/>
<path d="M460.9,97.6L465.9,102.6M460.9,102.6L465.9,97.6" stroke="#a8c040" stroke-width="1.0" opacity="1.0"/>
<path d="M450.8,92.9L455.8,97.9M450.8,97.9L455.8,92.9" stroke="#a8c040" stroke-width="1.0" opacity="1.0"/>
<path d="M457.3,94.5L462.3,99.5M457.3,99.5L462.3,94.5" stroke="#a8c040" stroke-width="1.0" opacity="1.0"/>
<circle cx="416.0" cy="138.9" r="1.15" fill="#552a8c" opacity="1.0"/>
<circle cx="416.7" cy="142.5" r="1.15" fill="#552a8c" opacity="1.0"/>
<circle cx="412.3" cy="145.4" r="1.15" fill="#552a8c" opacity="1.0"/>
<circle cx="417.4" cy="144.7" r="1.15" fill="#552a8c" opacity="1.0"/>
<circle cx="421.0" cy="145.4" r="1.15" fill="#552a8c" opacity="1.0"/>
<circle cx="418.1" cy="149.7" r="1.15" fill="#552a8c" opacity="1.0"/>
<circle cx="410.2" cy="154.8" r="1.15" fill="#552a8c" opacity="1.0"/>
<circle cx="422.5" cy="158.4" r="1.15" fill="#552a8c" opacity="1.0"/>
<circle cx="430.5" cy="149.7" r="1.15" fill="#552a8c" opacity="1.0"/>
<circle cx="426.1" cy="140.3" r="1.15" fill="#552a8c" opacity="1.0"/>
<circle cx="436.3" cy="166.4" r="1.15" fill="#552a8c" opacity="1.0"/>
<circle cx="419.0" cy="157.0" r="1.15" fill="#552a8c" opacity="1.0"/>
<circle cx="382.5" cy="140.8" r="1.15" fill="#552a8c" opacity="1.0"/>
<circle cx="385.2" cy="140.8" r="1.15" fill="#552a8c" opacity="1.0"/>
<circle cx="389.8" cy="139.9" r="1.15" fill="#552a8c" opacity="1.0"/>
<circle cx="396.1" cy="139.6" r="1.15" fill="#552a8c" opacity="1.0"/>
<circle cx="401.6" cy="140.8" r="1.15" fill="#552a8c" opacity="1.0"/>
<circle cx="382.5" cy="145.4" r="1.15" fill="#552a8c" opacity="1.0"/>
<circle cx="386.2" cy="146.3" r="1.15" fill="#552a8c" opacity="1.0"/>
<circle cx="388.9" cy="144.5" r="1.15" fill="#552a8c" opacity="1.0"/>
<circle cx="391.6" cy="145.4" r="1.15" fill="#552a8c" opacity="1.0"/>
<circle cx="394.3" cy="147.2" r="1.15" fill="#552a8c" opacity="1.0"/>
<circle cx="397.9" cy="146.3" r="1.15" fill="#552a8c" opacity="1.0"/>
<circle cx="400.6" cy="149.0" r="1.15" fill="#552a8c" opacity="1.0"/>
<circle cx="403.4" cy="147.2" r="1.15" fill="#552a8c" opacity="1.0"/>
<circle cx="405.2" cy="149.0" r="1.15" fill="#552a8c" opacity="1.0"/>
<circle cx="383.4" cy="149.0" r="1.15" fill="#552a8c" opacity="1.0"/>
<circle cx="388.0" cy="149.9" r="1.15" fill="#552a8c" opacity="1.0"/>
<circle cx="390.7" cy="151.7" r="1.15" fill="#552a8c" opacity="1.0"/>
<circle cx="392.5" cy="149.0" r="1.15" fill="#552a8c" opacity="1.0"/>
<circle cx="395.2" cy="152.6" r="1.15" fill="#552a8c" opacity="1.0"/>
<circle cx="401.6" cy="152.6" r="1.15" fill="#552a8c" opacity="1.0"/>
<circle cx="405.2" cy="153.5" r="1.15" fill="#552a8c" opacity="1.0"/>
<circle cx="381.6" cy="153.5" r="1.15" fill="#552a8c" opacity="1.0"/>
<circle cx="388.9" cy="154.4" r="1.15" fill="#552a8c" opacity="1.0"/>
<circle cx="397.9" cy="158.0" r="1.15" fill="#552a8c" opacity="1.0"/>
<circle cx="402.5" cy="162.6" r="1.15" fill="#552a8c" opacity="1.0"/>
<circle cx="400.6" cy="164.4" r="1.15" fill="#552a8c" opacity="1.0"/>
<circle cx="390.7" cy="142.6" r="1.15" fill="#552a8c" opacity="1.0"/>
<circle cx="398.8" cy="143.6" r="1.15" fill="#552a8c" opacity="1.0"/>
<line x1="36.5" y1="200.8" x2="251.5" y2="49.9" stroke="#2a2226" stroke-width="1.1"/>
<line x1="36.5" y1="197" x2="251.5" y2="43" stroke="#b86c60" stroke-width="1.1" stroke-dasharray="5.2,3"/>
<line x1="36.5" y1="203.9" x2="251.5" y2="56.8" stroke="#b86c60" stroke-width="1.1" stroke-dasharray="5.2,3"/>
<line x1="328.4" y1="182.3" x2="543.4" y2="56.3" stroke="#222" stroke-width="0.95"/>
<line x1="328.4" y1="167.3" x2="543.4" y2="22.0" stroke="#b86c60" stroke-width="1.1" stroke-dasharray="5.2,3"/>
<line x1="328.4" y1="198.6" x2="543.4" y2="92.0" stroke="#b86c60" stroke-width="1.1" stroke-dasharray="5.2,3"/>
<rect x="36.5" y="7.6" width="215.0" height="215.0" fill="none" stroke="#262626" stroke-width="0.7"/>
<line x1="36.5" y1="222.6" x2="36.5" y2="220.4" stroke="#262626" stroke-width="0.7"/>
<line x1="36.5" y1="7.6" x2="36.5" y2="9.8" stroke="#262626" stroke-width="0.7"/>
<line x1="72.33333333333333" y1="222.6" x2="72.33333333333333" y2="220.4" stroke="#262626" stroke-width="0.7"/>
<line x1="72.33333333333333" y1="7.6" x2="72.33333333333333" y2="9.8" stroke="#262626" stroke-width="0.7"/>
<line x1="108.16666666666666" y1="222.6" x2="108.16666666666666" y2="220.4" stroke="#262626" stroke-width="0.7"/>
<line x1="108.16666666666666" y1="7.6" x2="108.16666666666666" y2="9.8" stroke="#262626" stroke-width="0.7"/>
<line x1="144.0" y1="222.6" x2="144.0" y2="220.4" stroke="#262626" stroke-width="0.7"/>
<line x1="144.0" y1="7.6" x2="144.0" y2="9.8" stroke="#262626" stroke-width="0.7"/>
<line x1="179.83333333333331" y1="222.6" x2="179.83333333333331" y2="220.4" stroke="#262626" stroke-width="0.7"/>
<line x1="179.83333333333331" y1="7.6" x2="179.83333333333331" y2="9.8" stroke="#262626" stroke-width="0.7"/>
<line x1="215.66666666666669" y1="222.6" x2="215.66666666666669" y2="220.4" stroke="#262626" stroke-width="0.7"/>
<line x1="215.66666666666669" y1="7.6" x2="215.66666666666669" y2="9.8" stroke="#262626" stroke-width="0.7"/>
<line x1="251.5" y1="222.6" x2="251.5" y2="220.4" stroke="#262626" stroke-width="0.7"/>
<line x1="251.5" y1="7.6" x2="251.5" y2="9.8" stroke="#262626" stroke-width="0.7"/>
<line x1="36.5" y1="222.6" x2="38.7" y2="222.6" stroke="#262626" stroke-width="0.7"/>
<line x1="251.5" y1="222.6" x2="249.3" y2="222.6" stroke="#262626" stroke-width="0.7"/>
<line x1="36.5" y1="186.76666666666665" x2="38.7" y2="186.76666666666665" stroke="#262626" stroke-width="0.7"/>
<line x1="251.5" y1="186.76666666666665" x2="249.3" y2="186.76666666666665" stroke="#262626" stroke-width="0.7"/>
<line x1="36.5" y1="150.93333333333334" x2="38.7" y2="150.93333333333334" stroke="#262626" stroke-width="0.7"/>
<line x1="251.5" y1="150.93333333333334" x2="249.3" y2="150.93333333333334" stroke="#262626" stroke-width="0.7"/>
<line x1="36.5" y1="115.1" x2="38.7" y2="115.1" stroke="#262626" stroke-width="0.7"/>
<line x1="251.5" y1="115.1" x2="249.3" y2="115.1" stroke="#262626" stroke-width="0.7"/>
<line x1="36.5" y1="79.26666666666668" x2="38.7" y2="79.26666666666668" stroke="#262626" stroke-width="0.7"/>
<line x1="251.5" y1="79.26666666666668" x2="249.3" y2="79.26666666666668" stroke="#262626" stroke-width="0.7"/>
<line x1="36.5" y1="43.43333333333331" x2="38.7" y2="43.43333333333331" stroke="#262626" stroke-width="0.7"/>
<line x1="251.5" y1="43.43333333333331" x2="249.3" y2="43.43333333333331" stroke="#262626" stroke-width="0.7"/>
<line x1="36.5" y1="7.599999999999994" x2="38.7" y2="7.599999999999994" stroke="#262626" stroke-width="0.7"/>
<line x1="251.5" y1="7.599999999999994" x2="249.3" y2="7.599999999999994" stroke="#262626" stroke-width="0.7"/>
<text x="36.5" y="238.0" text-anchor="middle" class="tk">0</text>
<text x="72.33333333333333" y="238.0" text-anchor="middle" class="tk">20</text>
<text x="108.16666666666666" y="238.0" text-anchor="middle" class="tk">40</text>
<text x="144.0" y="238.0" text-anchor="middle" class="tk">60</text>
<text x="179.83333333333331" y="238.0" text-anchor="middle" class="tk">80</text>
<text x="215.66666666666669" y="238.0" text-anchor="middle" class="tk">100</text>
<text x="251.5" y="238.0" text-anchor="middle" class="tk">120</text>
<text x="32.9" y="227.1" text-anchor="end" class="tk">0</text>
<text x="32.9" y="191.26666666666665" text-anchor="end" class="tk">20</text>
<text x="32.9" y="155.43333333333334" text-anchor="end" class="tk">40</text>
<text x="32.9" y="119.6" text-anchor="end" class="tk">60</text>
<text x="32.9" y="83.76666666666668" text-anchor="end" class="tk">80</text>
<text x="32.9" y="47.93333333333331" text-anchor="end" class="tk">100</text>
<text x="32.9" y="12.099999999999994" text-anchor="end" class="tk">120</text>
<rect x="328.4" y="7.6" width="215.0" height="215.0" fill="none" stroke="#262626" stroke-width="0.7"/>
<line x1="352.2888888888889" y1="222.6" x2="352.2888888888889" y2="220.4" stroke="#262626" stroke-width="0.7"/>
<line x1="352.2888888888889" y1="7.6" x2="352.2888888888889" y2="9.8" stroke="#262626" stroke-width="0.7"/>
<line x1="400.06666666666666" y1="222.6" x2="400.06666666666666" y2="220.4" stroke="#262626" stroke-width="0.7"/>
<line x1="400.06666666666666" y1="7.6" x2="400.06666666666666" y2="9.8" stroke="#262626" stroke-width="0.7"/>
<line x1="447.84444444444443" y1="222.6" x2="447.84444444444443" y2="220.4" stroke="#262626" stroke-width="0.7"/>
<line x1="447.84444444444443" y1="7.6" x2="447.84444444444443" y2="9.8" stroke="#262626" stroke-width="0.7"/>
<line x1="495.6222222222222" y1="222.6" x2="495.6222222222222" y2="220.4" stroke="#262626" stroke-width="0.7"/>
<line x1="495.6222222222222" y1="7.6" x2="495.6222222222222" y2="9.8" stroke="#262626" stroke-width="0.7"/>
<line x1="543.4" y1="222.6" x2="543.4" y2="220.4" stroke="#262626" stroke-width="0.7"/>
<line x1="543.4" y1="7.6" x2="543.4" y2="9.8" stroke="#262626" stroke-width="0.7"/>
<line x1="328.4" y1="198.7111111111111" x2="330.59999999999997" y2="198.7111111111111" stroke="#262626" stroke-width="0.7"/>
<line x1="543.4" y1="198.7111111111111" x2="541.1999999999999" y2="198.7111111111111" stroke="#262626" stroke-width="0.7"/>
<line x1="328.4" y1="150.93333333333334" x2="330.59999999999997" y2="150.93333333333334" stroke="#262626" stroke-width="0.7"/>
<line x1="543.4" y1="150.93333333333334" x2="541.1999999999999" y2="150.93333333333334" stroke="#262626" stroke-width="0.7"/>
<line x1="328.4" y1="103.15555555555555" x2="330.59999999999997" y2="103.15555555555555" stroke="#262626" stroke-width="0.7"/>
<line x1="543.4" y1="103.15555555555555" x2="541.1999999999999" y2="103.15555555555555" stroke="#262626" stroke-width="0.7"/>
<line x1="328.4" y1="55.377777777777794" x2="330.59999999999997" y2="55.377777777777794" stroke="#262626" stroke-width="0.7"/>
<line x1="543.4" y1="55.377777777777794" x2="541.1999999999999" y2="55.377777777777794" stroke="#262626" stroke-width="0.7"/>
<line x1="328.4" y1="7.599999999999994" x2="330.59999999999997" y2="7.599999999999994" stroke="#262626" stroke-width="0.7"/>
<line x1="543.4" y1="7.599999999999994" x2="541.1999999999999" y2="7.599999999999994" stroke="#262626" stroke-width="0.7"/>
<text x="352.2888888888889" y="238.0" text-anchor="middle" class="tk">0.2</text>
<text x="400.06666666666666" y="238.0" text-anchor="middle" class="tk">0.4</text>
<text x="447.84444444444443" y="238.0" text-anchor="middle" class="tk">0.6</text>
<text x="495.6222222222222" y="238.0" text-anchor="middle" class="tk">0.8</text>
<text x="543.4" y="238.0" text-anchor="middle" class="tk">1</text>
<text x="324.79999999999995" y="203.2111111111111" text-anchor="end" class="tk">-0.3</text>
<text x="324.79999999999995" y="155.43333333333334" text-anchor="end" class="tk">-0.1</text>
<text x="324.79999999999995" y="107.65555555555555" text-anchor="end" class="tk">0.1</text>
<text x="324.79999999999995" y="59.877777777777794" text-anchor="end" class="tk">0.3</text>
<text x="324.79999999999995" y="12.099999999999994" text-anchor="end" class="tk">0.5</text>
<text x="144.0" y="251" text-anchor="middle" class="lb">reference height (cm)</text>
<text x="438.9" y="251" text-anchor="middle" class="lb" style="font-size:11.4px">reference vigour</text>
<text transform="translate(11.0,115.6) rotate(-90)" text-anchor="middle" class="lb">observed height (cm)</text>
<text transform="translate(302.0,112.8) rotate(-90)" text-anchor="middle" class="lb" style="font-size:11.4px">observed vigour</text>
<text x="146" y="270" text-anchor="middle" class="cap">(a)</text>
<text x="437.6" y="270" text-anchor="middle" class="cap">(b)</text>
<rect x="43.5" y="14.5" width="112.75" height="41.75" fill="#fff" fill-opacity="0.72" stroke="#262626" stroke-width="0.7"/>
<line x1="43.5" y1="30.75" x2="156.25" y2="30.75" stroke="#262626" stroke-width="0.7"/>
<text x="50.6" y="27.4" style="font-size:9.1px;font-weight:bold" fill="#000">RMSE = 3.75, R<tspan dy="-3.82" style="font-size:6.92px">2</tspan><tspan dy="3.82"> = 0.92</tspan></text>
<line x1="45.4" y1="37.6" x2="71.0" y2="37.6" stroke="#555" stroke-width="1.0"/>
<text x="73" y="41.4" style="font-size:9.1px" fill="#262626">Fit: y = 0.70x+12.22</text>
<line x1="45.4" y1="49.6" x2="71.0" y2="49.6" stroke="#a89088" stroke-width="1.0" stroke-dasharray="5.2,3"/>
<text x="73" y="53.8" style="font-size:9.1px" fill="#262626">95% conf. bounds</text>
<rect x="334.9" y="179.0" width="93.10000000000002" height="37.099999999999994" fill="#fff" fill-opacity="0.72" stroke="#262626" stroke-width="0.7"/>
<line x1="334.9" y1="193.4" x2="428" y2="193.4" stroke="#262626" stroke-width="0.7"/>
<text x="341.1" y="190" style="font-size:7.5px;font-weight:bold" fill="#000">RMSE = 0.09, R<tspan dy="-3.15" style="font-size:5.70px">2</tspan><tspan dy="3.15"> = 0.39</tspan></text>
<line x1="337.3" y1="199.3" x2="363.0" y2="199.3" stroke="#2a2a2a" stroke-width="0.85"/>
<text x="365.1" y="201.9" style="font-size:7.5px" fill="#262626">Fit: y = 0.59x-0.29</text>
<line x1="337.3" y1="209.9" x2="363.0" y2="209.9" stroke="#a89088" stroke-width="1.0" stroke-dasharray="5.2,3"/>
<text x="365.1" y="212.7" style="font-size:7.5px" fill="#262626">95% conf. bounds</text>
<rect x="205.4" y="134" width="39.5" height="82.30000000000001" fill="#fff" stroke="#262626" stroke-width="0.7"/>
<path d="M217.1,143.4H223.7M220.4,140.1V146.7" stroke="#3a4cb0" stroke-width="1.0" opacity="1.0"/>
<text x="235" y="146.4" class="lg">t<tspan dy="3.6" style="font-size:7.4px">1</tspan></text>
<circle cx="220.4" cy="159.5" r="3.3" fill="none" stroke="#b07a40" stroke-width="1.0" opacity="1.0"/>
<text x="235" y="162.5" class="lg">t<tspan dy="3.6" style="font-size:7.4px">2</tspan></text>
<path d="M218.2,173.1L222.7,177.6M218.2,177.6L222.7,173.1" stroke="#d0b830" stroke-width="1.0" opacity="1.0"/>
<text x="235" y="178.3" class="lg">t<tspan dy="3.6" style="font-size:7.4px">3</tspan></text>
<circle cx="220.4" cy="191.2" r="1.15" fill="#2a2070" opacity="1.0"/>
<text x="235" y="194.2" class="lg">t<tspan dy="3.6" style="font-size:7.4px">4</tspan></text>
<rect x="217.6" y="204.2" width="5.6" height="5.6" fill="none" stroke="#8cb050" stroke-width="1.0" opacity="1.0"/>
<text x="235" y="210" class="lg">t<tspan dy="3.6" style="font-size:7.4px">5</tspan></text>
<rect x="496.6" y="149.8" width="39.5" height="66.1" fill="#fff" stroke="#262626" stroke-width="0.7"/>
<path d="M508.4,159.4H515.0M511.7,156.1V162.7" stroke="#3a4cb0" stroke-width="1.0" opacity="1.0"/>
<text x="526.5" y="162.4" class="lg">t<tspan dy="3.6" style="font-size:7.4px">1</tspan></text>
<circle cx="511.7" cy="175.2" r="3.3" fill="none" stroke="#b07a40" stroke-width="1.0" opacity="1.0"/>
<text x="526.5" y="178.2" class="lg">t<tspan dy="3.6" style="font-size:7.4px">2</tspan></text>
<path d="M509.4,188.8L514.0,193.2M509.4,193.2L514.0,188.8" stroke="#d0b830" stroke-width="1.0" opacity="1.0"/>
<text x="526.5" y="194" class="lg">t<tspan dy="3.6" style="font-size:7.4px">3</tspan></text>
<circle cx="511.7" cy="206.8" r="1.15" fill="#2a2070" opacity="1.0"/>
<text x="526.5" y="209.8" class="lg">t<tspan dy="3.6" style="font-size:7.4px">4</tspan></text>
</svg>
</body></html>
